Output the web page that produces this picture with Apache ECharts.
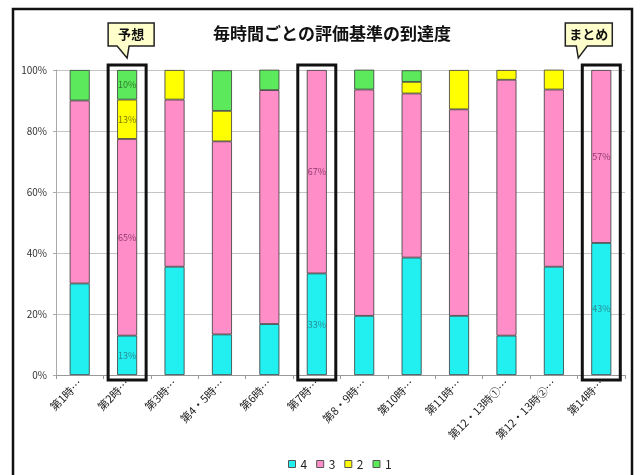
<!DOCTYPE html>
<html><head><meta charset="utf-8">
<script src="https://cdn.jsdelivr.net/npm/echarts@6/dist/echarts.min.js"></script>
<style>html,body{margin:0;padding:0;background:#fff}#c{width:641px;height:475px}</style>
</head><body><div id="c"></div>
<script>
const categories = ['第1時…','第2時…','第3時…','第4・5時…','第6時…','第7時…','第8・9時…','第10時…','第11時…','第12・13時①…','第12・13時②…','第14時…'];
const seriesNames = ['4','3','2','1'];
const s4 = [30.0, 12.9, 35.5, 13.3, 16.7, 33.3, 19.4, 38.5, 19.4, 12.9, 35.5, 43.3];
const s3 = [60.0, 64.5, 54.8, 63.3, 76.7, 66.7, 74.2, 53.8, 67.7, 83.9, 58.1, 56.7];
const s2 = [0, 12.9, 9.7, 10.0, 0, 0, 0, 3.8, 12.9, 3.2, 6.5, 0];
const s1 = [10.0, 9.7, 0, 13.3, 6.7, 0, 6.5, 3.8, 0, 0, 0, 0];
const yTicks = [0, 20, 40, 60, 80, 100];
const labeledIdx = [1, 5, 11];
const callouts = [{idx: 1, text: '予想'}, {idx: 11, text: 'まとめ'}];
const title = '毎時間ごとの評価基準の到達度';

const colors = ['#22F0F0', '#FF8EC8', '#FFFF00', '#5CEA5C'];
const labelColors = ['#2A8C96', '#8E3A6E', '#7E7E00', '#2E7A2E'];
const font = '"Noto Sans CJK JP", "Noto Sans", sans-serif';

const chart = echarts.init(document.getElementById('c'));
const allData = [s4, s3, s2, s1];
const series = allData.map((arr, si) => ({
  name: seriesNames[si],
  type: 'bar',
  stack: 'total',
  barWidth: 20,
  itemStyle: {color: colors[si], borderColor: '#3a3a3a', borderWidth: 0.8},
  label: {show: false, position: 'inside', fontSize: 9, color: labelColors[si], fontFamily: font,
          formatter: p => Math.round(p.value) + '%'},
  data: arr.map((v, i) => {
    if (v === 0) return '-';
    if (labeledIdx.indexOf(i) >= 0) return {value: v, label: {show: true}};
    return v;
  })
}));

chart.setOption({
  animation: false,
  textStyle: {fontFamily: font},
  title: {text: title, left: 327, top: 20, textAlign: 'center',
          textStyle: {fontSize: 17, fontWeight: 'bold', color: '#111', fontFamily: font}},
  grid: {left: 56, right: 16, top: 70, bottom: 100, containLabel: false},
  legend: {data: seriesNames, left: 283, top: 453, itemWidth: 7, itemHeight: 7, itemGap: 9,
           icon: 'rect', itemStyle: {borderColor: '#555', borderWidth: 1},
           textStyle: {fontSize: 12, color: '#222', fontFamily: font}},
  xAxis: {type: 'category', data: categories,
          axisLine: {lineStyle: {color: '#999'}},
          axisTick: {show: true, length: 4, lineStyle: {color: '#999'}},
          axisLabel: {rotate: 45, interval: 0, fontSize: 11, color: '#222', margin: 6, fontFamily: font}},
  yAxis: {type: 'value', min: yTicks[0], max: yTicks[yTicks.length - 1], interval: yTicks[1] - yTicks[0],
          axisLine: {show: true, lineStyle: {color: '#aaa'}},
          axisTick: {show: true, length: 3, lineStyle: {color: '#aaa'}},
          axisLabel: {formatter: '{value}%', fontSize: 10, color: '#333', margin: 9, fontFamily: font},
          splitLine: {lineStyle: {color: '#c4c4c4'}}},
  series: series
});

const yTop = chart.convertToPixel({yAxisIndex: 0}, 100);
const yBot = chart.convertToPixel({yAxisIndex: 0}, 0);
const graphics = [];
graphics.push({type: 'rect', shape: {x: 13, y: 9, width: 619, height: 480},
               style: {fill: null, stroke: '#111', lineWidth: 2.5}, silent: true});
labeledIdx.forEach(i => {
  const cx = chart.convertToPixel({xAxisIndex: 0}, categories[i]);
  graphics.push({type: 'rect', shape: {x: cx - 19, y: yTop - 5, width: 38, height: yBot - yTop + 10},
                 style: {fill: null, stroke: '#111', lineWidth: 3}, z: 100, silent: true});
});
callouts.forEach(c => {
  const cx = chart.convertToPixel({xAxisIndex: 0}, categories[c.idx]);
  let x0, x1, b0, b1, ax;
  if (c.idx === 1) { x0 = cx - 19; x1 = cx + 27; b0 = cx - 10; b1 = cx + 2; ax = cx; }
  else { x0 = cx - 36; x1 = cx + 11; b0 = cx - 25; b1 = cx - 14; ax = cx - 23; }
  const y0 = 23, y1 = 46, ay = yTop - 12;
  graphics.push({type: 'polygon', shape: {points: [[x0, y0], [x1, y0], [x1, y1], [b1, y1], [ax, ay], [b0, y1], [x0, y1]]},
                 style: {fill: '#FFFFCC', stroke: '#222', lineWidth: 1.5}, z: 100, silent: true});
  graphics.push({type: 'text', x: (x0 + x1) / 2, y: (y0 + y1) / 2,
                 style: {text: c.text, fill: '#111', font: 'bold 13px ' + font, align: 'center', verticalAlign: 'middle'},
                 z: 101, silent: true});
});
chart.setOption({graphic: graphics});
</script>
</body></html>
